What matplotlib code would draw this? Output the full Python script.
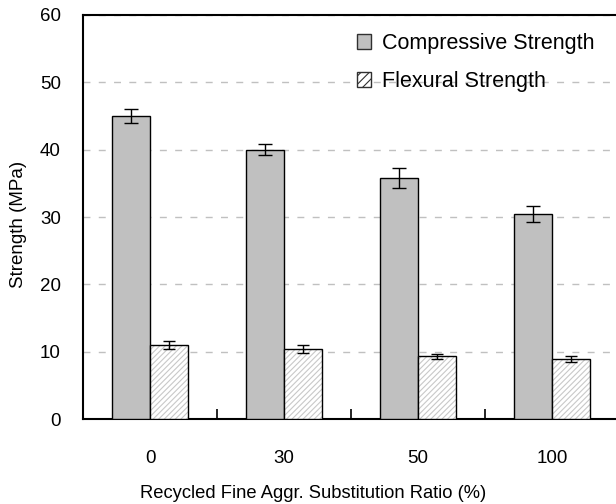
import matplotlib
matplotlib.use("Agg")
import matplotlib.pyplot as plt
import numpy as np
from matplotlib.patches import Patch

categories = ["0", "30", "50", "100"]
compressive = [45.0, 40.0, 35.8, 30.5]
compressive_err = [1.0, 0.8, 1.5, 1.2]
flexural = [11.0, 10.4, 9.3, 8.9]
flexural_err = [0.6, 0.6, 0.4, 0.4]
yticks = [0, 10, 20, 30, 40, 50, 60]

plt.rcParams['font.family'] = ['Liberation Sans', 'DejaVu Sans']
plt.rcParams['hatch.linewidth'] = 0.8

W, H = 616, 504
fig = plt.figure(figsize=(W / 100, H / 100), dpi=100)
ax = fig.add_axes([83 / W, (H - 419) / H, 536 / W, 404 / H])

x = np.arange(len(categories))
bw = 0.284

ax.bar(x - bw / 2, compressive, bw, color="#c0c0c0", edgecolor="black", linewidth=1.0, zorder=3)
ax.bar(x + bw / 2, flexural, bw, color="white", edgecolor="#c8c8c8", hatch="//////", linewidth=0, zorder=3)
ax.bar(x + bw / 2, flexural, bw, color="none", edgecolor="black", linewidth=1.0, zorder=4)
ax.errorbar(x - bw / 2, compressive, yerr=compressive_err, fmt="none", ecolor="black", elinewidth=1.0, capsize=5, capthick=1.0, zorder=5)
ax.errorbar(x + bw / 2, flexural, yerr=flexural_err, fmt="none", ecolor="black", elinewidth=1.0, capsize=4, capthick=1.0, zorder=5)

ax.set_xlim(-0.5, len(categories) - 0.5)
ax.set_ylim(0, 60)
ax.set_yticks(yticks)
ax.set_xticks(x)
ax.set_xticklabels(categories, fontsize=13.5)
ax.tick_params(axis='x', length=0, pad=22)
ax.tick_params(axis='y', length=0, pad=16, labelsize=13.5)
ax.set_xticks(x[:-1] + 0.5, minor=True)
ax.tick_params(axis='x', which='minor', direction='in', length=7, width=1.2)

for sp in ax.spines.values():
    sp.set_linewidth(1.5)
ax.spines['right'].set_visible(False)

ax.yaxis.grid(True, linestyle=(0, (5, 6)), color="#c0c0c0", linewidth=1.0, zorder=0)
ax.set_axisbelow(True)

ax.set_ylabel("Strength (MPa)", fontsize=13.5)
ax.yaxis.set_label_coords((19 - 83) / 536, (419 - 224) / 404)
ax.set_xlabel("Recycled Fine Aggr. Substitution Ratio (%)", fontsize=13.2)
ax.xaxis.set_label_coords((313 - 83) / 536, -(493 - 419) / 404)
ax.xaxis.label.set_verticalalignment('center')
ax.yaxis.label.set_verticalalignment('center')

handles = [
    Patch(facecolor="#c0c0c0", edgecolor="#303030", linewidth=1.0),
    Patch(facecolor="white", edgecolor="#303030", linewidth=1.0, hatch="////"),
]
leg = fig.legend(handles, ["Compressive Strength", "Flexural Strength"],
                 loc="upper left", bbox_to_anchor=(357 / W, 1 - 33 / H),
                 frameon=False, fontsize=15.5, handlelength=0.65, handleheight=0.65,
                 handletextpad=0.5, labelspacing=0.8, borderaxespad=0, borderpad=0)

fig.savefig("out.png", dpi=100)
